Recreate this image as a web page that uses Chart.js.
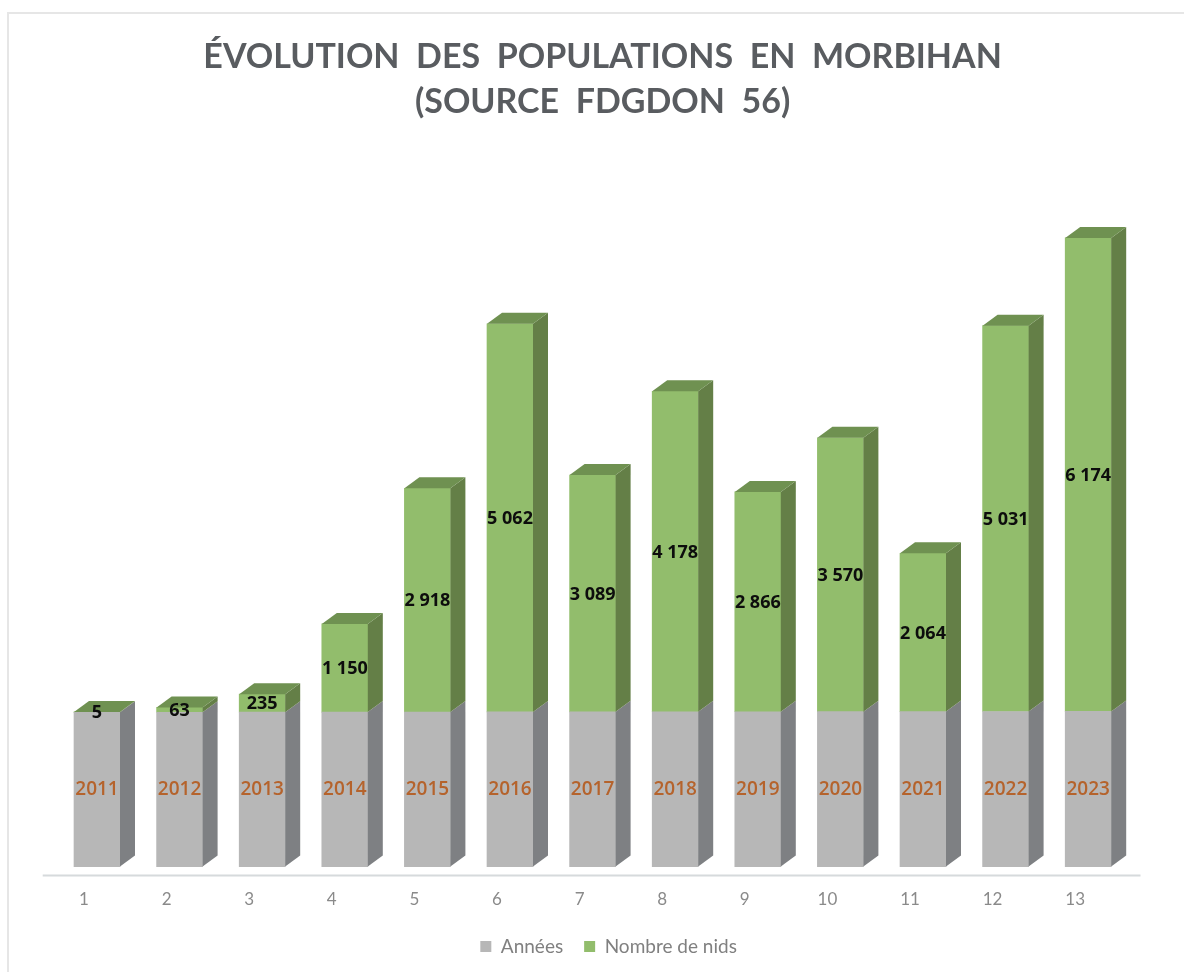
<!DOCTYPE html>
<html lang="fr">
<head>
<meta charset="UTF-8">
<title>Évolution des populations en Morbihan</title>
<script src="https://cdn.jsdelivr.net/npm/chart.js"></script>
<style>
  html, body { margin: 0; background: #fff; overflow: hidden; }
  #frame { position: absolute; left: 7px; top: 12px; width: 1190px; height: 980px; border: 2px solid #e6e6e6; }
  #box { position: absolute; left: 0; top: 0; width: 1184px; height: 972px; }
</style>
</head>
<body>
<div id="frame"></div>
<div id="box"><canvas id="graph"></canvas></div>
<script>
const categories = ['1', '2', '3', '4', '5', '6', '7', '8', '9', '10', '11', '12', '13'];
const annees = [2011, 2012, 2013, 2014, 2015, 2016, 2017, 2018, 2019, 2020, 2021, 2022, 2023];
const nids = [5, 63, 235, 1150, 2918, 5062, 3089, 4178, 2866, 3570, 2064, 5031, 6174];

const depthX = 15, depthY = 11;

function fmt(n) {
  return String(n).replace(/\B(?=(\d{3})+$)/g, ' ');
}

function face(ctx, pts, color) {
  ctx.fillStyle = color;
  ctx.beginPath();
  pts.forEach((p, i) => i ? ctx.lineTo(p[0], p[1]) : ctx.moveTo(p[0], p[1]));
  ctx.closePath();
  ctx.fill();
}

// faces 3D, axe prolongé et étiquettes
const relief = {
  id: 'relief',
  afterLayout(chart) {
    // titre et légende sont centrés un peu à droite du graphique
    chart.titleBlock.left += 10;
    chart.titleBlock.right += 10;
    chart.legend.left += 16;
    chart.legend.right += 16;
  },
  beforeDatasetsDraw(chart) {
    const ctx = chart.ctx, area = chart.chartArea;
    ctx.save();
    ctx.strokeStyle = '#d6dadc';
    ctx.lineWidth = 2;
    ctx.beginPath();
    ctx.moveTo(area.left - 13, area.bottom);
    ctx.lineTo(area.right + 11, area.bottom);
    ctx.stroke();
    ctx.restore();
  },
  afterDatasetsDraw(chart) {
    const ctx = chart.ctx;
    const sides = ['#7e8083', '#647f47'];
    ctx.save();
    chart.data.datasets.forEach((ds, d) => {
      chart.getDatasetMeta(d).data.forEach(bar => {
        const l = bar.x - bar.width / 2, r = bar.x + bar.width / 2;
        face(ctx, [[r, bar.y], [r + depthX, bar.y - depthY], [r + depthX, bar.base - depthY], [r, bar.base]], sides[d]);
        if (d === 1) {
          face(ctx, [[l, bar.y], [r, bar.y], [r + depthX, bar.y - depthY], [l + depthX, bar.y - depthY]], '#6f9151');
        }
      });
    });
    ctx.textAlign = 'center';
    ctx.textBaseline = 'middle';
    chart.getDatasetMeta(0).data.forEach((bar, i) => {
      ctx.font = '600 19px "Open Sans"';
      ctx.fillStyle = '#b5632c';
      ctx.fillText(annees[i], bar.x, 790);
    });
    chart.getDatasetMeta(1).data.forEach((bar, i) => {
      ctx.font = 'bold 18px "Open Sans"';
      ctx.fillStyle = '#0d0d0d';
      ctx.fillText(fmt(nids[i]), bar.x, (bar.y + bar.base) / 2 + 1);
    });
    ctx.restore();
  }
};

new Chart(document.getElementById('graph'), {
  type: 'bar',
  data: {
    labels: categories,
    datasets: [
      { label: 'Années', data: annees, backgroundColor: '#b7b7b7', barThickness: 46 },
      { label: 'Nombre de nids', data: nids, backgroundColor: '#92bd6c', barThickness: 46 }
    ]
  },
  options: {
    responsive: true,
    maintainAspectRatio: false,
    animation: false,
    layout: { padding: { left: 55.7, right: 54.5, top: 0, bottom: 6 } },
    scales: {
      x: {
        stacked: true,
        grid: { display: false },
        border: { display: false },
        ticks: { color: '#8a8a8a', font: { family: 'Lato', size: 17 }, labelOffset: -13, padding: 6 }
      },
      y: { stacked: true, display: false, min: -118, max: 9190 }
    },
    plugins: {
      title: {
        display: true,
        text: ['ÉVOLUTION  DES  POPULATIONS  EN  MORBIHAN', '(SOURCE  FDGDON  56)'],
        color: '#595c60',
        font: { family: 'Lato', size: 34, weight: 'bold', lineHeight: 1.32 },
        padding: { top: 35, bottom: 37 }
      },
      legend: {
        position: 'bottom',
        labels: { color: '#808080', font: { family: 'Lato', size: 19 }, boxWidth: 11, boxHeight: 11, padding: 21 }
      },
      tooltip: { enabled: false }
    }
  },
  plugins: [relief]
});
</script>
</body>
</html>
